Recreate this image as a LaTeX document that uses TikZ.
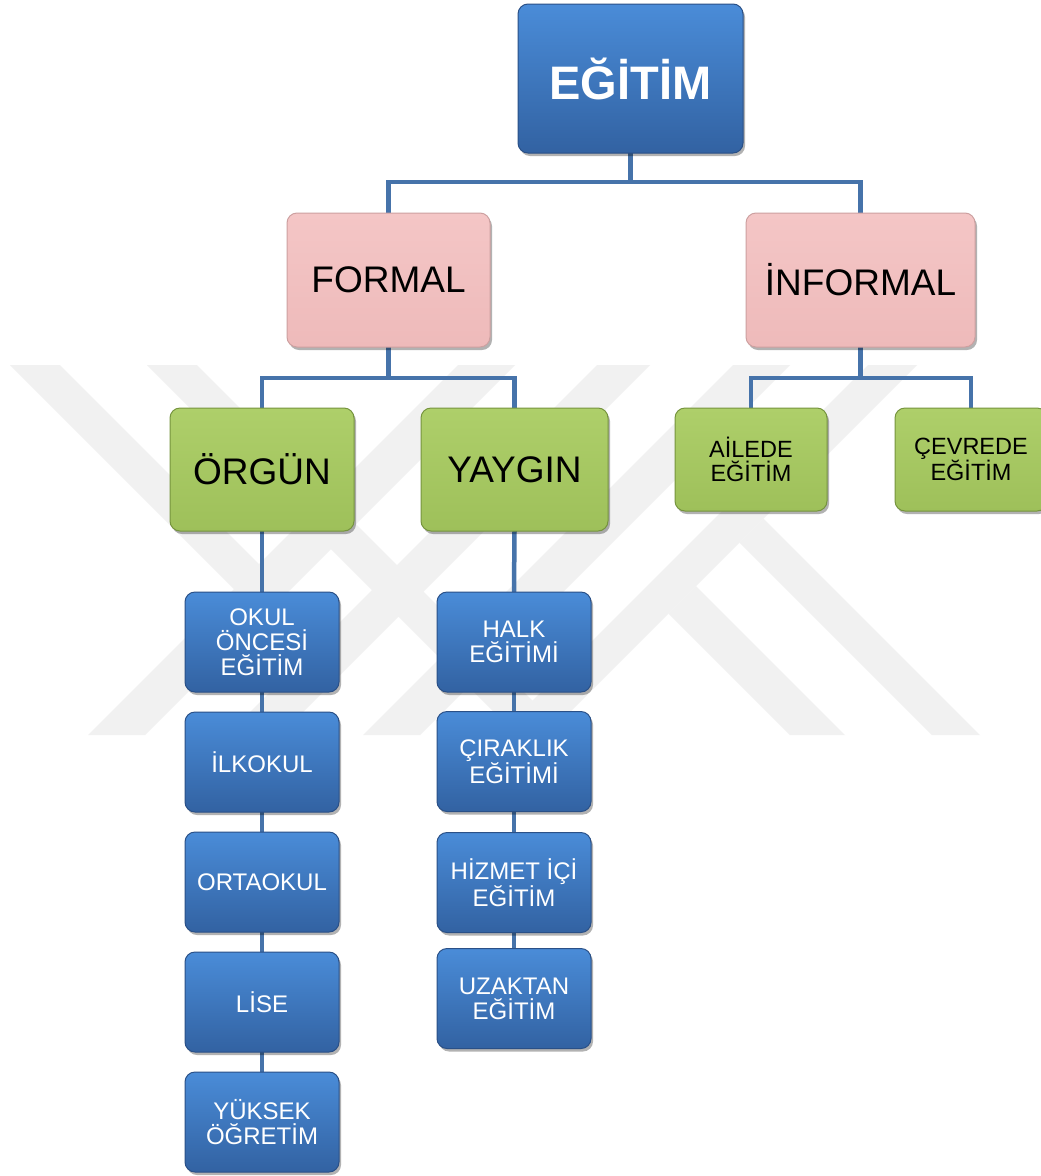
\documentclass[tikz,border=0pt]{standalone}
\usepackage{fontspec}
\setmainfont{Liberation Sans}
\usetikzlibrary{shadows,backgrounds}
\definecolor{wm}{RGB}{241,241,241}
\definecolor{conn}{RGB}{70,115,170}
\definecolor{bluetop}{RGB}{74,140,216}
\definecolor{bluebot}{RGB}{50,98,162}
\definecolor{blueedge}{RGB}{42,80,135}
\definecolor{pinktop}{RGB}{244,198,198}
\definecolor{pinkbot}{RGB}{238,186,186}
\definecolor{pinkedge}{RGB}{205,160,160}
\definecolor{greentop}{RGB}{174,207,106}
\definecolor{greenbot}{RGB}{158,192,90}
\definecolor{greenedge}{RGB}{118,148,62}
\tikzset{
  box/.style={rectangle, rounded corners=10pt, inner sep=0pt, align=center,
    line width=1pt,
    drop shadow={shadow xshift=2pt, shadow yshift=-3pt, opacity=0.3, fill=black}},
  bluebox/.style={box, top color=bluetop, bottom color=bluebot, draw=blueedge,
    text=white, minimum width=154pt, minimum height=100pt,
    font=\fontsize{24}{25}\selectfont},
  topbox/.style={box, top color=bluetop, bottom color=bluebot, draw=blueedge,
    text=white, font=\fontsize{47}{47}\selectfont\bfseries},
  pinkbox/.style={box, top color=pinktop, bottom color=pinkbot, draw=pinkedge,
    text=black, minimum height=134pt, font=\fontsize{37}{37}\selectfont},
  greenbox/.style={box, top color=greentop, bottom color=greenbot, draw=greenedge,
    text=black},
  bigfont/.style={font=\fontsize{37}{37}\selectfont},
  smallfont/.style={font=\fontsize{23.5}{24}\selectfont},
  connector/.style={draw=conn, line width=4.5pt, line join=miter, line cap=rect},
  wmark/.style={fill=wm, draw=none}
}
\begin{document}
\begin{tikzpicture}[x=1pt,y=-1pt]
\useasboundingbox (0,0) rectangle (1041,1176);

% nodes
\node[topbox, minimum width=225pt, minimum height=149pt] (egitim) at (630.5,78.5) {EĞİTİM};
\node[pinkbox, minimum width=203pt] (formal) at (388.5,280) {FORMAL};
\node[pinkbox, minimum width=229pt] (informal) at (860.5,280) {İNFORMAL};
\node[greenbox, bigfont, minimum width=184pt, minimum height=123pt] (orgun) at (262,469.5) {ÖRGÜN};
\node[greenbox, bigfont, minimum width=187pt, minimum height=123pt] (yaygin) at (514.5,469.5) {YAYGIN};
\node[greenbox, smallfont, minimum width=152pt, minimum height=103pt] (ailede) at (751,459.5) {AİLEDE\\EĞİTİM};
\node[greenbox, smallfont, minimum width=152pt, minimum height=103pt] (cevrede) at (971,459.5) {ÇEVREDE\\EĞİTİM};

\node[bluebox] (okul) at (262,642) {OKUL\\ÖNCESİ\\EĞİTİM};
\node[bluebox] (ilkokul) at (262,762) {İLKOKUL};
\node[bluebox] (ortaokul) at (262,882) {ORTAOKUL};
\node[bluebox] (lise) at (262,1002) {LİSE};
\node[bluebox] (yuksek) at (262,1122) {YÜKSEK\\ÖĞRETİM};

\node[bluebox] (halk) at (514,642) {HALK\\EĞİTİMİ};
\node[bluebox] (cirak) at (514,761.5) {ÇIRAKLIK\\EĞİTİMİ};
\node[bluebox] (hizmet) at (514,882.5) {HİZMET İÇİ\\EĞİTİM};
\node[bluebox] (uzak) at (514,998.5) {UZAKTAN\\EĞİTİM};

\coordinate (b1) at (630.5,182);
\coordinate (b2) at (388.5,378);
\coordinate (b3) at (860.5,378);

\begin{pgfonlayer}{background}
  \fill[white] (0,0) rectangle (1041,1176);
  % watermark
  \fill[wmark] (10,365) -- (60,365) -- (342.5,647.5) -- (317.5,672.5) -- cycle;
  \fill[wmark] (147,365) -- (197,365) -- (567,735) -- (517,735) -- cycle;
  \fill[wmark] (458,365) -- (515,365) -- (145,735) -- (88,735) -- cycle;
  \fill[wmark] (597,365) -- (650,365) -- (280,735) -- (227,735) -- cycle;
  \fill[wmark] (733,365) -- (790,365) -- (420,735) -- (363,735) -- cycle;
  \fill[wmark] (868,365) -- (917,365) -- (547,735) -- (498,735) -- cycle;
  \fill[wmark] (668.5,613.5) -- (696,586) -- (845,735) -- (790,735) -- cycle;
  \fill[wmark] (739.5,542.5) -- (763.5,518.5) -- (980,735) -- (932,735) -- cycle;
  % connectors
  \draw[connector] (egitim.south) -- (b1);
  \draw[connector] (formal.north) |- (b1) -| (informal.north);
  \draw[connector] (formal.south) -- (b2);
  \draw[connector] (orgun.north) |- (b2) -| (yaygin.north);
  \draw[connector] (informal.south) -- (b3);
  \draw[connector] (ailede.north) |- (b3) -| (cevrede.north);
  \draw[connector] (orgun.south) -- (okul.north);
  \draw[connector] (okul.south) -- (ilkokul.north);
  \draw[connector] (ilkokul.south) -- (ortaokul.north);
  \draw[connector] (ortaokul.south) -- (lise.north);
  \draw[connector] (lise.south) -- (yuksek.north);
  \draw[connector] (yaygin.south) -- (halk.north);
  \draw[connector] (halk.south) -- (cirak.north);
  \draw[connector] (cirak.south) -- (hizmet.north);
  \draw[connector] (hizmet.south) -- (uzak.north);
\end{pgfonlayer}
\end{tikzpicture}
\end{document}
